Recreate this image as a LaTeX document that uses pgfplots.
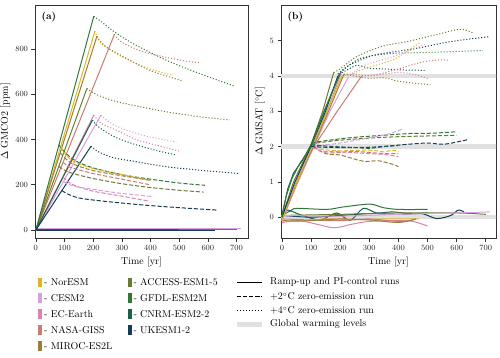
\documentclass[border=0pt]{standalone}
\usepackage{pgfplots}
\pgfplotsset{compat=1.18}
\definecolor{cNor}{RGB}{226,180,30}
\definecolor{cCES}{RGB}{215,160,225}
\definecolor{cEC}{RGB}{220,130,175}
\definecolor{cNAS}{RGB}{200,125,115}
\definecolor{cMIR}{RGB}{155,125,60}
\definecolor{cACC}{RGB}{105,125,50}
\definecolor{cGFD}{RGB}{50,120,55}
\definecolor{cCNR}{RGB}{25,95,75}
\definecolor{cUKE}{RGB}{20,60,85}
\definecolor{cBand}{RGB}{225,225,225}
\tikzset{
  dsh/.style={dash pattern=on 4.2bp off 1.9bp},
  dt/.style={dash pattern=on 1.1bp off 1.9bp},
}
\pgfplotsset{
  common/.style={
    scale only axis, height=233bp,
    tick align=outside, tick pos=left,
    major tick length=3.5bp,
    tick style={black!80, line width=0.7bp},
    axis line style={black!80, line width=0.8bp},
    ticklabel style={font=\footnotesize, black!85},
    label style={font=\normalsize},
    ylabel near ticks,
    ylabel style={yshift=-2bp},
    xtick={0,100,...,700},
    xlabel={Time [yr]},
    every axis plot/.append style={line width=1bp},
    clip=true,
  }
}
\begin{document}
\begin{tikzpicture}
\path[use as bounding box] (0,0) rectangle (500bp,-358bp);
% ---------------- panel (a)
\begin{axis}[common, at={(35bp,-238bp)}, anchor=south west, width=213bp,
  xmin=-3, xmax=740, ymin=-35, ymax=995, ytick={0,200,...,800},
  ylabel={$\Delta$ GMCO2 [ppm]}]
% PI-control
\addplot[cNor] coordinates {(0,1) (470,1)};
\addplot[cCES] coordinates {(0,5) (715,5)};
\addplot[cEC] coordinates {(0,-3) (505,-3)};
\addplot[cNAS] coordinates {(0,0) (500,0)};
\addplot[cMIR] coordinates {(0,2) (460,2)};
\addplot[cACC] coordinates {(0,3) (700,3)};
\addplot[cGFD] coordinates {(0,2) (500,2)};
\addplot[cCNR] coordinates {(0,1) (500,1)};
\addplot[cUKE] coordinates {(0,0) (625,0)};
% ramp-up
\addplot[cNor] coordinates {(0,0) (206,879)};
\addplot[cCES] coordinates {(0,0) (227,508)};
\addplot[cEC] coordinates {(0,0) (202,508)};
\addplot[cNAS] coordinates {(0,0) (274,865)};
\addplot[cMIR] coordinates {(0,0) (213,857)};
\addplot[cACC] coordinates {(0,0) (178,626)};
\addplot[cGFD] coordinates {(0,0) (202,945)};
\addplot[cCNR] coordinates {(0,0) (197,486)};
\addplot[cUKE] coordinates {(0,0) (192,370)};
% +2 dashed
\addplot[cGFD,dsh,smooth] coordinates {(80,378) (100,345) (140,305) (200,275) (300,245) (400,225) (500,208) (590,198)};
\addplot[cNor,dsh,smooth] coordinates {(87,371) (100,340) (130,305) (200,272) (300,245) (400,220)};
\addplot[cMIR,dsh,smooth] coordinates {(85,342) (100,320) (130,292) (200,263) (300,240) (400,220)};
\addplot[cNAS,dsh,smooth] coordinates {(95,300) (120,278) (200,250) (300,225) (400,200)};
\addplot[cACC,dsh,smooth] coordinates {(80,282) (100,265) (130,250) (200,228) (300,205) (400,188) (500,176) (585,168)};
\addplot[cEC,dsh,smooth] coordinates {(94,236) (110,215) (140,195) (200,172) (300,150) (395,128)};
\addplot[cCES,dsh,smooth] coordinates {(96,215) (110,205) (140,192) (200,180) (300,162) (410,148)};
\addplot[cUKE,dsh,smooth] coordinates {(91,175) (110,160) (150,142) (220,130) (338,115) (455,103) (635,88)};
% +4 dotted
\addplot[cGFD,dt,smooth] coordinates {(202,945) (221,928) (270,880) (338,825) (455,751) (571,692) (693,636)};
\addplot[cNor,dt,smooth] coordinates {(206,879) (225,830) (280,780) (340,742) (400,712) (475,685)};
\addplot[cMIR,dt,smooth] coordinates {(213,857) (240,815) (300,770) (396,707) (510,660)};
\addplot[cNAS,dt,smooth] coordinates {(274,865) (300,830) (370,790) (450,765) (530,746) (571,740)};
\addplot[cACC,dt,smooth] coordinates {(178,626) (210,600) (270,572) (338,552) (455,523) (571,501) (676,487)};
\addplot[cCES,dt,smooth] coordinates {(227,508) (265,470) (320,440) (396,412) (490,390)};
\addplot[cEC,dt,smooth] coordinates {(202,508) (230,470) (280,442) (350,400) (396,383) (501,349)};
\addplot[cCNR,dt,smooth] coordinates {(197,486) (220,455) (270,415) (330,385) (420,352) (490,332)};
\addplot[cUKE,dt,smooth] coordinates {(192,370) (220,345) (270,320) (338,305) (455,280) (571,265) (709,250)};
\node[anchor=north west, font=\bfseries] at (rel axis cs:0.015,0.985) {(a)};
\end{axis}
% ---------------- panel (b)
\begin{axis}[common, at={(281bp,-238bp)}, anchor=south west, width=215bp,
  xmin=-3, xmax=735, ymin=-0.59, ymax=6.01, ytick={0,1,...,5},
  ylabel={$\Delta$ GMSAT [$^{\circ}$C]}]
% warming levels
\addplot[cBand, line width=4.5bp] coordinates {(-10,0) (760,0)};
\addplot[cBand, line width=4.5bp] coordinates {(-10,2) (760,2)};
\addplot[cBand, line width=4.5bp] coordinates {(-10,4) (760,4)};
% PI-control
\addplot[cGFD,smooth] coordinates {(0,0.05) (30,0.18) (51,0.25) (154,0.22) (211,0.29) (302,0.37) (348,0.27) (400,0.22) (500,0.22)};
\addplot[cCNR,smooth] coordinates {(0,0.05) (20,0.2) (60,0.08) (131,-0.08) (188,0.12) (234,-0.09) (280,0.25) (325,0.12) (380,0.15) (440,0.1) (500,0.12)};
\addplot[cUKE,smooth] coordinates {(0,0.05) (100,0.0) (200,0.05) (300,0.1) (400,0.08) (480,0.1) (531,-0.04) (580,0.05) (605,0.2) (625,0.15)};
\addplot[cACC,smooth] coordinates {(0,0.05) (200,0.08) (400,0.12) (600,0.12) (700,0.08)};
\addplot[cCES,smooth] coordinates {(0,0.05) (200,0.03) (400,0.08) (600,0.12) (715,0.15)};
\addplot[cEC,smooth] coordinates {(0,-0.15) (60,-0.1) (120,-0.2) (180,-0.3) (240,-0.2) (300,-0.12) (400,-0.1) (450,-0.12) (500,-0.25)};
\addplot[cNor,smooth] coordinates {(0,-0.1) (50,-0.12) (150,-0.05) (250,-0.07) (350,-0.05) (470,-0.05)};
\addplot[cNAS,smooth] coordinates {(0,-0.05) (100,-0.08) (200,-0.1) (300,-0.05) (400,-0.12) (450,-0.08)};
\addplot[cMIR,smooth] coordinates {(0,-0.1) (100,-0.1) (200,-0.05) (300,-0.08) (400,-0.15) (460,-0.05)};
% ramp-up
\addplot[cNAS] coordinates {(0,-0.1) (55,1.0) (110,2.0) (190,3.0) (274,4.0)};
\addplot[cCES] coordinates {(0,-0.1) (52,1.0) (110,2.0) (165,3.0) (227,3.95)};
\addplot[cEC] coordinates {(0,-0.1) (50,1.0) (105,2.0) (155,3.0) (202,4.05)};
\addplot[cMIR] coordinates {(0,-0.05) (50,1.0) (108,2.0) (160,3.0) (213,4.05)};
\addplot[cNor] coordinates {(0,-0.1) (25,0.5) (50,1.0) (105,2.0) (155,3.0) (206,4.0)};
\addplot[cACC] coordinates {(0,0) (40,1.0) (98,2.0) (140,3.0) (178,4.1)};
\addplot[cUKE] coordinates {(0,0) (45,1.0) (100,2.0) (150,3.0) (192,4.0)};
\addplot[cCNR] coordinates {(0,0.05) (20,0.8) (40,1.25) (70,1.6) (100,2.05) (150,3.1) (197,4.05)};
\addplot[cGFD] coordinates {(0,0) (15,0.6) (35,1.1) (60,1.5) (100,2.0) (145,3.0) (202,4.1)};
% +2 dashed
\addplot[cNor,dsh,smooth] coordinates {(110,2.0) (130,1.93) (200,1.88) (300,1.9) (350,1.85) (380,1.9) (400,1.86)};
\addplot[cGFD,dsh,smooth] coordinates {(105,2.05) (120,2.13) (234,2.25) (348,2.32) (439,2.37) (520,2.38) (600,2.42)};
\addplot[cMIR,dsh,smooth] coordinates {(108,2.0) (150,1.8) (200,1.76) (270,1.6) (300,1.58) (330,1.6) (380,1.5) (400,1.43)};
\addplot[cNAS,dsh,smooth] coordinates {(110,2.0) (150,1.82) (250,1.86) (350,1.8) (400,1.8)};
\addplot[cACC,dsh,smooth] coordinates {(98,2.05) (120,2.1) (200,2.18) (300,2.24) (400,2.28) (500,2.3) (600,2.32)};
\addplot[cEC,dsh,smooth] coordinates {(105,2.0) (130,1.88) (200,1.85) (300,1.8) (350,1.78) (400,1.72)};
\addplot[cCES,dsh,smooth] coordinates {(110,2.0) (150,2.05) (200,2.1) (300,2.25) (365,2.35) (415,2.5)};
\addplot[cUKE,dsh,smooth] coordinates {(100,2.0) (150,1.98) (230,1.97) (325,1.99) (440,2.07) (500,2.1) (560,2.07) (640,2.2)};
\addplot[cCNR,dsh,smooth] coordinates {(100,2.05) (180,2.0) (260,1.97) (300,1.95) (350,2.0) (400,2.03)};
% +4 dotted
\addplot[cGFD,dt,smooth] coordinates {(202,4.1) (230,4.3) (270,4.5) (330,4.6) (400,4.65) (474,4.66) (550,4.68) (620,4.7) (690,4.72)};
\addplot[cACC,dt,smooth] coordinates {(178,4.1) (200,4.2) (257,4.55) (348,4.85) (428,4.97) (519,5.15) (611,5.32) (656,5.22)};
\addplot[cUKE,dt,smooth] coordinates {(192,4.05) (230,4.3) (300,4.55) (348,4.64) (462,4.78) (576,4.97) (709,5.11)};
\addplot[cCNR,dt,smooth] coordinates {(197,4.05) (230,4.2) (260,4.3) (300,4.22) (350,4.2) (420,4.17) (490,4.16)};
\addplot[cNor,dt,smooth] coordinates {(206,4.0) (240,4.05) (280,4.2) (380,4.45) (430,4.7) (475,4.95)};
\addplot[cCES,dt,smooth] coordinates {(227,3.95) (260,4.2) (300,4.35) (400,4.6) (490,4.9)};
\addplot[cNAS,dt,smooth] coordinates {(274,4.0) (330,4.05) (400,4.2) (474,4.38) (530,4.45) (571,4.45)};
\addplot[cEC,dt,smooth] coordinates {(202,4.05) (250,4.05) (300,4.0) (350,4.05) (400,4.1) (450,4.05) (501,3.93)};
\addplot[cMIR,dt,smooth] coordinates {(213,4.05) (250,4.0) (300,3.93) (350,3.95) (400,3.85) (450,3.8) (510,3.75)};
\node[anchor=north west, font=\bfseries] at (rel axis cs:0.015,0.985) {(b)};
\end{axis}
% ---------------- legend
\foreach \c/\n/\y in {cNor/NorESM/282.5, cCES/CESM2/298, cEC/EC-Earth/314, cNAS/NASA-GISS/330, cMIR/MIROC-ES2L/346}{
  \fill[\c] (38.2bp,-\y bp-4.6bp) rectangle (42.4bp,-\y bp+4.6bp);
  \node[anchor=west, inner sep=0pt] at (44bp,-\y bp) {- \n};
}
\foreach \c/\n/\y in {cACC/ACCESS-ESM1-5/282.5, cGFD/GFDL-ESM2M/298, cCNR/CNRM-ESM2-2/314, cUKE/UKESM1-2/330}{
  \fill[\c] (127.6bp,-\y bp-4.6bp) rectangle (131.8bp,-\y bp+4.6bp);
  \node[anchor=west, inner sep=0pt] at (133.4bp,-\y bp) {- \n};
}
\draw[black, line width=1bp] (237bp,-282.3bp) -- (262bp,-282.3bp);
\node[anchor=west, inner sep=0pt] at (270bp,-282.3bp) {Ramp-up and PI-control runs};
\draw[black, line width=1bp, dsh] (237bp,-296.7bp) -- (262bp,-296.7bp);
\node[anchor=west, inner sep=0pt] at (270bp,-296.7bp) {+2$^{\circ}$C zero-emission run};
\draw[black, line width=1bp, dt] (237bp,-310.7bp) -- (262bp,-310.7bp);
\node[anchor=west, inner sep=0pt] at (270bp,-310.7bp) {+4$^{\circ}$C zero-emission run};
\draw[cBand, line width=4.5bp] (237bp,-324.3bp) -- (262bp,-324.3bp);
\node[anchor=west, inner sep=0pt] at (270bp,-324.3bp) {Global warming levels};
\end{tikzpicture}
\end{document}
